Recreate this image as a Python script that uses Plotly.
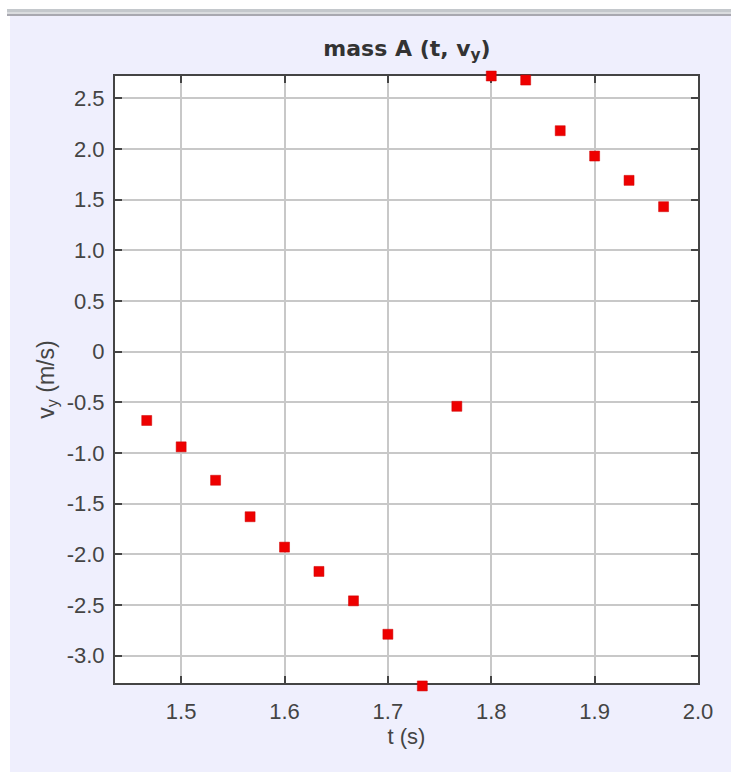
import plotly.graph_objects as go

# Data
t_values = [1.4667, 1.5, 1.5333, 1.5667, 1.6, 1.6333, 1.6667, 1.7, 1.7333,
            1.7667, 1.8, 1.8333, 1.8667, 1.9, 1.9333, 1.9667]
vy_values = [-0.68, -0.94, -1.27, -1.63, -1.93, -2.17, -2.46, -2.79, -3.30,
             -0.54, 2.72, 2.68, 2.18, 1.93, 1.69, 1.43]
x_ticks = [1.5, 1.6, 1.7, 1.8, 1.9, 2.0]
x_tick_labels = ["1.5", "1.6", "1.7", "1.8", "1.9", "2.0"]
y_ticks = [2.5, 2.0, 1.5, 1.0, 0.5, 0, -0.5, -1.0, -1.5, -2.0, -2.5, -3.0]
y_tick_labels = ["2.5", "2.0", "1.5", "1.0", "0.5", "0", "-0.5", "-1.0", "-1.5", "-2.0", "-2.5", "-3.0"]

X_RANGE = [1.436, 2.0]
Y_RANGE = [-3.271, 2.72]

W, H = 731, 772
# visible plot frame (pixels)
FL, FR, FT, FB = 115, 698, 76, 683
PAD = 12  # extra room so markers at the frame edge are still drawn
L, R, T, B = FL, FR, FT - PAD, FB + PAD


def px(x):
    return (x - L) / (R - L)


def py(y):
    return (B - y) / (B - T)


k = (FB - FT) / (Y_RANGE[1] - Y_RANGE[0])  # pixels per unit
y2_range = [Y_RANGE[0] - PAD / k, Y_RANGE[1] + PAD / k]
y_dom = [py(FB), py(FT)]

FONT = "Liberation Sans, Arial, sans-serif"
TFONT = "DejaVu Sans, Verdana, sans-serif"
LAV = "#EFEFFD"
TXT = "#444444"

fig = go.Figure()
# transparent copy on the main axes so the framed subplot is created
fig.add_trace(go.Scatter(
    x=t_values, y=vy_values, mode="markers", xaxis="x", yaxis="y",
    marker=dict(symbol="square", size=10, opacity=0),
    hoverinfo="skip", showlegend=False,
))
# visible markers on an invisible twin axis pair with a little extra room
fig.add_trace(go.Scatter(
    x=t_values, y=vy_values, mode="markers", xaxis="x2", yaxis="y2",
    marker=dict(symbol="square", size=10, color="#EE0000",
                line=dict(color="#CC0000", width=0.5)),
    cliponaxis=False, showlegend=False,
))

axis_common = dict(
    showline=True, linecolor="#444444", linewidth=2, mirror="ticks",
    ticks="inside", ticklen=7, tickcolor="#444444", tickwidth=1.5,
    showgrid=True, gridcolor="#C8C8C8", gridwidth=1.5,
    zeroline=False,
    tickfont=dict(family=FONT, size=22, color=TXT),
)

fig.update_layout(
    xaxis=dict(range=X_RANGE, tickvals=x_ticks, ticktext=x_tick_labels, anchor="y",
               domain=[0, 1], ticklabelstandoff=8,
               title=dict(text="t (s)", font=dict(family=FONT, size=22, color=TXT), standoff=1),
               **axis_common),
    yaxis=dict(range=Y_RANGE, tickvals=y_ticks, ticktext=y_tick_labels, anchor="x",
               domain=y_dom, ticklabelstandoff=4,
               title=dict(text="v<sub>y</sub> (m/s)", font=dict(family=FONT, size=23, color=TXT), standoff=6),
               **axis_common),
    xaxis2=dict(range=X_RANGE, domain=[0, 1], anchor="y2", visible=False),
    yaxis2=dict(range=y2_range, domain=[0, 1], anchor="x2", visible=False),
)

shapes = [
    dict(type="rect", xref="paper", yref="paper", x0=px(FL), x1=px(FR), y0=py(FB), y1=py(FT),
         fillcolor="white", line=dict(width=0), layer="below"),
    dict(type="rect", xref="paper", yref="paper", x0=px(0), x1=px(10), y0=py(0), y1=py(H),
         fillcolor="white", line=dict(width=0), layer="below"),
    dict(type="rect", xref="paper", yref="paper", x0=px(0), x1=px(W), y0=py(0), y1=py(9),
         fillcolor="white", line=dict(width=0), layer="below"),
    dict(type="rect", xref="paper", yref="paper", x0=px(7), x1=px(W), y0=py(9), y1=py(12),
         fillcolor="#C4C8CC", line=dict(width=0), layer="below"),
    dict(type="rect", xref="paper", yref="paper", x0=px(7), x1=px(W), y0=py(12), y1=py(14),
         fillcolor="#DADCDF", line=dict(width=0), layer="below"),
    dict(type="rect", xref="paper", yref="paper", x0=px(7), x1=px(W), y0=py(14), y1=py(16),
         fillcolor="#A8A8B0", line=dict(width=0), layer="below"),
]

fig.update_layout(
    width=W, height=H,
    margin=dict(l=L, r=W - R, t=T, b=H - B, autoexpand=False),
    paper_bgcolor=LAV, plot_bgcolor="rgba(0,0,0,0)",
    title=dict(text="<b>mass A (t, v<sub>y</sub>)</b>", x=px(407), xanchor="center", xref="paper",
               y=1 - 48 / H, yanchor="middle",
               font=dict(family=TFONT, size=22, color="#333333")),
    shapes=shapes,
)

fig.write_html("out.html", config={"displayModeBar": False},
               post_script="document.body.style.margin='0';")
